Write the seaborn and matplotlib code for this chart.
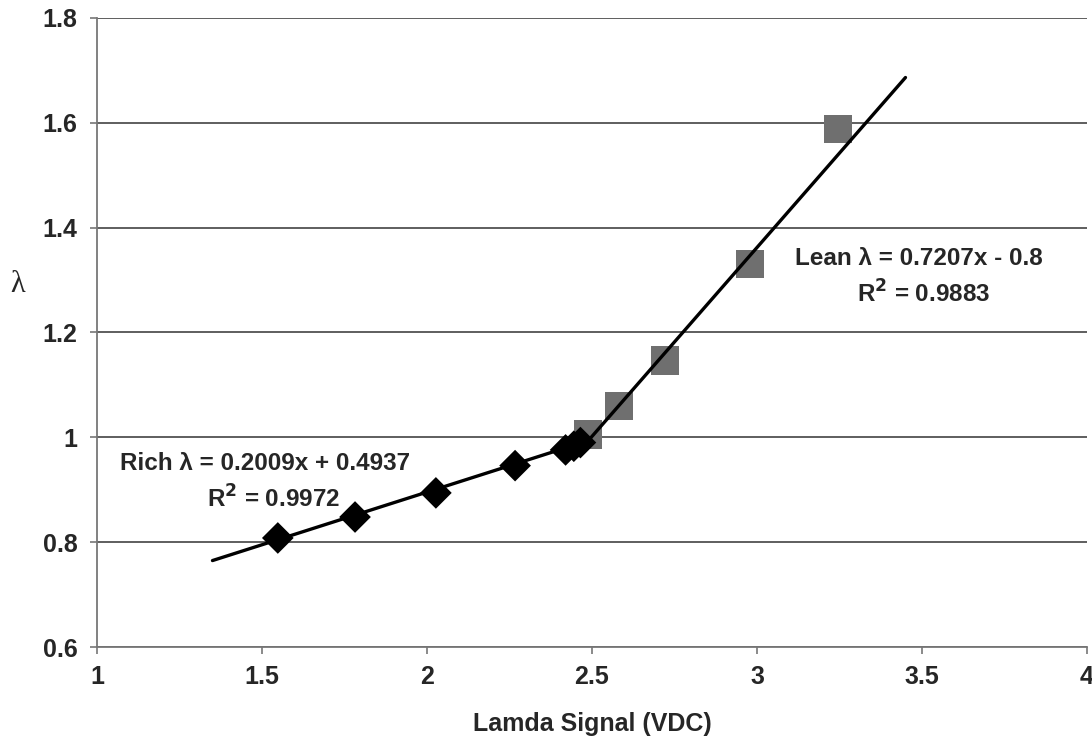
import matplotlib
matplotlib.use("Agg")
import matplotlib.pyplot as plt
import numpy as np
import pandas as pd
import seaborn as sns

rich_x = [1.548, 1.782, 2.027, 2.267, 2.42, 2.445, 2.465]
rich_y = [0.808, 0.848, 0.894, 0.946, 0.976, 0.983, 0.990]
lean_x = [2.488, 2.582, 2.721, 2.979, 3.245]
lean_y = [1.005, 1.060, 1.147, 1.331, 1.588]

# trendline equations shown in the chart (slope, intercept) and their drawn span
rich_fit = (0.2009, 0.4937)
lean_fit = (0.7207, -0.8)
rich_span = [1.35, 2.47]
lean_span = [2.47, 3.45]

x_ticks = [1, 1.5, 2, 2.5, 3, 3.5, 4]
y_ticks = [0.6, 0.8, 1.0, 1.2, 1.4, 1.6, 1.8]
y_tick_labels = ["0.6", "0.8", "1", "1.2", "1.4", "1.6", "1.8"]


def main():
    sns.set_style("white")
    plt.rcParams["font.family"] = ["Liberation Sans", "DejaVu Sans"]

    fig = plt.figure(figsize=(10.92, 7.46), dpi=100)
    ax = fig.add_axes([0.0888, 0.1327, 0.9066, 0.8432])

    rich = pd.DataFrame({"x": rich_x, "y": rich_y})
    lean = pd.DataFrame({"x": lean_x, "y": lean_y})

    # trend lines from the stated equations
    for span, (m, b) in [(rich_span, rich_fit), (lean_span, lean_fit)]:
        xs = np.array(span)
        ax.plot(xs, m * xs + b, color="black", lw=2.4, zorder=4)

    sns.scatterplot(data=lean, x="x", y="y", marker="s", s=420, color="#6f6f6f",
                    edgecolor="none", ax=ax, zorder=3)
    sns.scatterplot(data=rich, x="x", y="y", marker="D", s=260, color="black",
                    edgecolor="none", ax=ax, zorder=5)

    ax.set_xlim(1, 4)
    ax.set_ylim(0.6, 1.8)
    ax.set_xticks(x_ticks)
    ax.set_xticklabels([f"{t:g}" for t in x_ticks], fontweight="bold", fontsize=18)
    ax.set_yticks(y_ticks)
    ax.set_yticklabels(y_tick_labels, fontweight="bold", fontsize=18)
    ax.yaxis.grid(True, color="#333333", lw=1.1)
    ax.set_axisbelow(True)
    for s in ["top", "right"]:
        ax.spines[s].set_visible(False)
    for s in ["left", "bottom"]:
        ax.spines[s].set_color("#777777")
        ax.spines[s].set_linewidth(1.3)
    ax.tick_params(axis="both", length=5, width=1.2, color="#777777",
                   direction="out", left=True, bottom=True)
    ax.tick_params(axis="y", pad=9)
    ax.tick_params(axis="x", pad=8)

    ax.set_xlabel("")
    ax.set_ylabel("")
    fig.text(592 / 1092, 1 - 724 / 746, "Lamda Signal (VDC)", fontweight="bold",
             fontsize=18, ha="center", va="center")
    fig.text(18 / 1092, 1 - 284 / 746, "λ", family=["Liberation Serif", "DejaVu Serif"],
             fontsize=22, ha="center", va="center")

    ax.text(1.07, 0.9374, "Rich λ = 0.2009x + 0.4937", fontweight="bold",
            fontsize=17.5, ha="left", va="baseline")
    ax.text(1.536, 0.8668, "R$^\\mathbf{2}$ = 0.9972", fontweight="bold",
            fontsize=17.5, ha="center", va="baseline")
    ax.text(3.115, 1.3286, "Lean λ = 0.7207x - 0.8", fontweight="bold",
            fontsize=17.5, ha="left", va="baseline")
    ax.text(3.506, 1.2561, "R$^\\mathbf{2}$ = 0.9883", fontweight="bold",
            fontsize=17.5, ha="center", va="baseline")

    fig.savefig("out.png", dpi=100)
    plt.close(fig)


if __name__ == "__main__":
    main()
